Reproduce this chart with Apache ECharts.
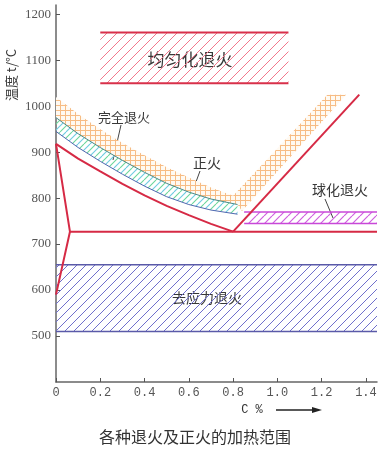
<!DOCTYPE html>
<html><head><meta charset="utf-8">
<script src="https://cdn.jsdelivr.net/npm/echarts@6/dist/echarts.min.js"></script>
<style>html,body{margin:0;padding:0;background:#fff}#c{width:392px;height:450px}</style>
</head><body><div id="c"></div>
<script>
// ---- data ----
const xTicks=[0,0.2,0.4,0.6,0.8,1.0,1.2,1.4];
const yTicks=[500,600,700,800,900,1000,1100,1200];
const homogC=[0.2,1.05], homogT=[1050,1160];
const stressC=[0,1.45], stressT=[510,655];
const spheroC=[0.85,1.45], spheroT=[745,770];
const curveC=[0,0.1,0.2,0.3,0.4,0.5,0.6,0.7,0.8];
const a3T=[918,886,858,831,806,783,763,744,727];
const normTopT=[1020,983,950,920,893,867,845,823,805];
const fullC=[0,0.1,0.2,0.3,0.4,0.5,0.6,0.7,0.82];
const fullHighT=[975,940,910,882,856,832,813,798,786];
const fullLowT=[945,910,880,852,826,803,786,774,765];
const normArmC=[1.226,1.31,0.84], normArmT=[1025,1025,772];
const acmC=[0.8,1.37], acmT=[727,1025];
const a1C=[0.063,1.45], a1T=[727,727];
const gpC=[0,0.063,0], gpT=[918,727,590];

const zip=(C,T)=>C.map((c,i)=>[c,T[i]]);
const rect=(C,T)=>[[C[0],T[0]],[C[1],T[0]],[C[1],T[1]],[C[0],T[1]]];

// ---- patterns ----
function mk(s,draw){const c=document.createElement('canvas');c.width=c.height=s;const g=c.getContext('2d');draw(g,s);return {image:c,repeat:'repeat'};}
function diag(color,s,w,bg){return mk(s,(g,s)=>{if(bg){g.fillStyle=bg;g.fillRect(0,0,s,s);}g.strokeStyle=color;g.lineWidth=w;g.beginPath();for(const k of [-s,0,s]){g.moveTo(k,s);g.lineTo(k+s,0);}g.stroke();});}
const patHomog=diag('#f2788c',10,1);
const patStress=diag('#7070cc',9,1);
const patSphero=diag('#d060e0',8,1.2);
const patFull=mk(12,(g,s)=>{g.lineWidth=1.1;g.strokeStyle='#6cd69c';g.beginPath();for(const k of [-s,0,s]){g.moveTo(k,s);g.lineTo(k+s,0);}g.stroke();g.strokeStyle='#70cce0';g.beginPath();for(const k of [-s,0,s]){g.moveTo(k+6,s);g.lineTo(k+s+6,0);}g.stroke();});
const patNorm=mk(5,(g,s)=>{g.fillStyle='#fffaf2';g.fillRect(0,0,s,s);g.strokeStyle='#f7bc84';g.lineWidth=1;g.beginPath();g.moveTo(0.5,0);g.lineTo(0.5,s);g.moveTo(0,0.5);g.lineTo(s,0.5);g.stroke();});

function poly(pts,fill,z){return {type:'custom',silent:true,z:z,data:pts,
  renderItem:(p,api)=>{if(p.dataIndex>0)return null;return {type:'polygon',shape:{points:pts.map(q=>api.coord(q))},style:{fill:fill,stroke:null}};}};}
function line(pts,color,w,z){return {type:'line',data:pts,showSymbol:false,silent:true,z:z,lineStyle:{color:color,width:w},animation:false};}

const normPoly=zip(curveC,normTopT).concat(zip(normArmC,normArmT)).concat(zip(fullC,fullHighT).reverse());
const fullPoly=zip(fullC,fullHighT).concat(zip(fullC,fullLowT).reverse());

const series=[
  poly(rect(homogC,homogT),patHomog,1),
  line([[homogC[0],homogT[0]],[homogC[1],homogT[0]]],'#d8304a',2,3),
  line([[homogC[0],homogT[1]],[homogC[1],homogT[1]]],'#d8304a',2,3),
  poly(rect(stressC,stressT),patStress,1),
  line([[stressC[0],stressT[0]],[stressC[1],stressT[0]]],'#5a5aa8',1.5,3),
  line([[stressC[0],stressT[1]],[stressC[1],stressT[1]]],'#5a5aa8',1.5,3),
  poly(rect(spheroC,spheroT),patSphero,1),
  line([[spheroC[0],spheroT[0]],[spheroC[1],spheroT[0]]],'#c848d8',1.5,3),
  line([[spheroC[0],spheroT[1]],[spheroC[1],spheroT[1]]],'#c848d8',1.5,3),
  poly(normPoly,patNorm,1),
  poly(fullPoly,patFull,1),
  line(zip(fullC,fullHighT),'#4a8a8a',1,3),
  line(zip(fullC,fullLowT),'#5068b0',1,3),
  line(zip(curveC,a3T),'#d62a45',2,4),
  line(zip(acmC,acmT),'#d62a45',2,4),
  line(zip(a1C,a1T),'#d62a45',2,4),
  line(zip(gpC,gpT),'#d62a45',2,4)
];

const cjk='"Noto Sans CJK SC"';
function txt(x,y,s,size,extra){return Object.assign({type:'text',x:x,y:y,silent:true,style:{text:s,fill:'#383838',font:size+'px '+cjk,textAlign:'center',textVerticalAlign:'middle'}},extra||{});}
function seg(x1,y1,x2,y2){return {type:'line',silent:true,shape:{x1:x1,y1:y1,x2:x2,y2:y2},style:{stroke:'#444',lineWidth:1}};}

const chart=echarts.init(document.getElementById('c'),null,{renderer:'canvas'});
chart.setOption({
  animation:false,
  backgroundColor:'#fff',
  grid:{left:56,right:15,top:5,bottom:68,outerBoundsMode:'none'},
  xAxis:{type:'value',min:0,max:1.45,interval:0.2,
    axisLine:{lineStyle:{color:'#666',width:1.5}},
    axisTick:{inside:true,length:4,customValues:xTicks,lineStyle:{color:'#555'}},
    axisLabel:{customValues:xTicks,formatter:v=>v===0?'0':v.toFixed(1),fontFamily:'Liberation Mono',fontSize:12,color:'#555',margin:5},
    splitLine:{show:false}},
  yAxis:{type:'value',min:400,max:1220,interval:100,
    axisLine:{show:true,lineStyle:{color:'#666',width:1.5}},
    axisTick:{show:true,inside:true,length:4,customValues:yTicks,lineStyle:{color:'#555'}},
    axisLabel:{customValues:yTicks,formatter:v=>String(v),fontFamily:'Liberation Serif',fontSize:13,color:'#555',margin:5},
    splitLine:{show:false}},
  series:series,
  graphic:[
    txt(190,60,'均匀化退火',17),
    txt(124,117,'完全退火',13),
    txt(207,163,'正火',14),
    txt(340,190,'球化退火',14),
    txt(207,298,'去应力退火',14),
    seg(121,125,113,160),
    seg(200,171,193,190),
    seg(325,199,333,218),
    txt(11,75,'温度 t/°C',13,{rotation:Math.PI/2}),
    {type:'text',x:252,y:410,silent:true,style:{text:'C %',fill:'#333',font:'12px "Liberation Mono"',textAlign:'center',textVerticalAlign:'middle'}},
    {type:'line',silent:true,shape:{x1:276,y1:410,x2:313,y2:410},style:{stroke:'#222',lineWidth:1.5}},
    {type:'polygon',silent:true,shape:{points:[[312,407],[322,410],[312,413]]},style:{fill:'#222'}},
    {type:'text',x:195,y:437,silent:true,style:{text:'各种退火及正火的加热范围',fill:'#333',font:'16px '+cjk,textAlign:'center',textVerticalAlign:'middle'}}
  ]
});
</script></body></html>
